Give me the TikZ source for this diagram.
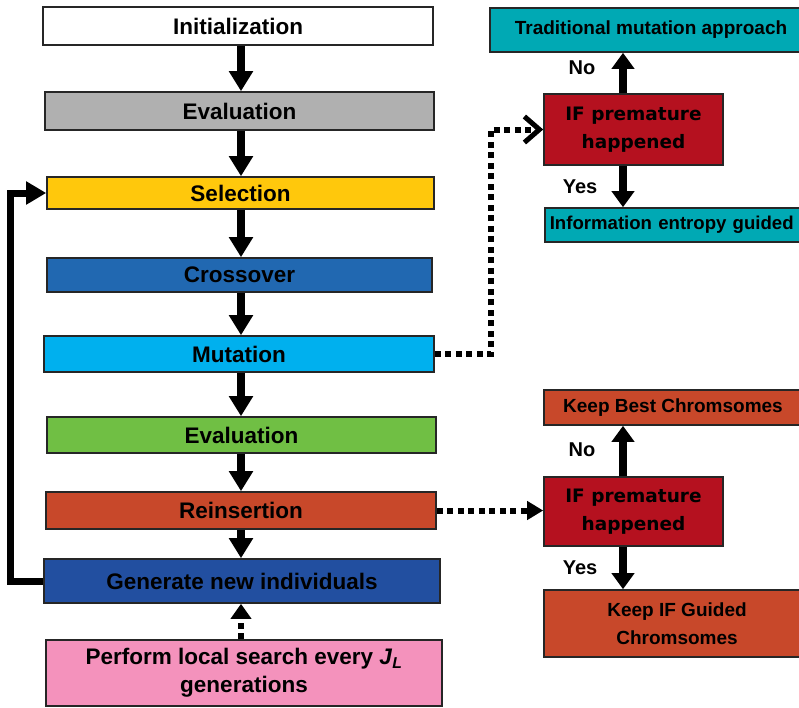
\documentclass[tikz,border=0pt]{standalone}
\usepackage{fontspec}
\setmainfont{Liberation Sans}
\newfontfamily\dvfont{DejaVu Sans}
\usetikzlibrary{arrows.meta}
\definecolor{cGray}{RGB}{176,176,176}
\definecolor{cSel}{RGB}{255,200,12}
\definecolor{cCross}{RGB}{33,104,177}
\definecolor{cMut}{RGB}{0,176,238}
\definecolor{cGreen}{RGB}{112,191,68}
\definecolor{cRed}{RGB}{200,72,42}
\definecolor{cGen}{RGB}{34,79,160}
\definecolor{cPink}{RGB}{244,146,188}
\definecolor{cTeal}{RGB}{0,169,180}
\definecolor{cIf}{RGB}{181,17,31}
\begin{document}
\begin{tikzpicture}[x=1pt,y=-1pt,
  box/.style={draw=black!85, line width=1.6pt, rectangle, inner sep=0pt, align=center, text=black,
    font=\fontsize{22.5}{28}\selectfont\bfseries},
  rbox/.style={box, font=\fontsize{19}{28}\selectfont\bfseries},
  ifbox/.style={box, fill=cIf, font=\dvfont\fontsize{18.5}{28}\selectfont\bfseries},
  arr/.style={line width=7.5pt, -{Triangle[width=23pt,length=20pt]}},
  rarr/.style={line width=7.5pt, -{Triangle[width=22pt,length=16pt]}},
  dotln/.style={line width=6pt, dash pattern=on 6pt off 4.5pt},
  lbl/.style={font=\fontsize{20}{24}\selectfont\bfseries}
]
\useasboundingbox (0,0) rectangle (799,707);
\clip (0,0) rectangle (799,707);

% left column
\node[box, fill=white, minimum width=390pt, minimum height=38pt] (init) at (238,26) {Initialization};
\node[box, fill=cGray, minimum width=389pt, minimum height=38pt] (ev1) at (239.5,111) {Evaluation};
\node[box, fill=cSel, minimum width=387pt, minimum height=32pt] (sel) at (240.5,193) {Selection};
\node[box, fill=cCross, minimum width=385pt, minimum height=34pt] (cross) at (239.5,275) {Crossover};
\node[box, fill=cMut, minimum width=390pt, minimum height=36pt] (mut) at (239,354) {Mutation};
\node[box, fill=cGreen, minimum width=389pt, minimum height=36pt] (ev2) at (241.5,435) {Evaluation};
\node[box, fill=cRed, minimum width=390pt, minimum height=37pt] (reins) at (241,510.5) {Reinsertion};
\node[box, fill=cGen, minimum width=396pt, minimum height=44pt] (gen) at (242,581) {Generate new individuals};
\node[box, fill=cPink, minimum width=396pt, minimum height=66pt] (pink) at (244,673)
  {Perform local search every \textit{J}\textsubscript{\textit{L}}\\generations};

% right column
\node[rbox, fill=cTeal, minimum width=322pt, minimum height=44pt] (trad) at (651,30) {Traditional mutation approach};
\node[ifbox, minimum width=179pt, minimum height=71pt] (ifT) at (633.5,129.5) {IF premature\\happened};
\node[rbox, fill=cTeal, anchor=west, minimum height=34pt, text width=290pt, align=left, inner xsep=5pt,
  font=\fontsize{18.6}{28}\selectfont\bfseries] (info) at (544,225) {Information entropy guided};
\node[rbox, fill=cRed, minimum width=258pt, minimum height=35pt] (best) at (673,407.5) {Keep Best Chromsomes};
\node[ifbox, minimum width=179pt, minimum height=69pt] (ifB) at (633.5,511.5) {IF premature\\happened};
\node[rbox, fill=cRed, minimum width=266pt, minimum height=67pt] (keepif) at (677,623.5) {Keep IF Guided\\Chromsomes};

% labels
\node[lbl] (no1) at (582,68) {No};
\node[lbl] (yes1) at (580,187) {Yes};
\node[lbl] (no2) at (582,450) {No};
\node[lbl] (yes2) at (580,568) {Yes};

% column arrows
\coordinate (lx) at (241,0);
\coordinate (rx) at (623,0);
\draw[arr] (init.south -| lx) -- (ev1.north -| lx);
\draw[arr] (ev1.south -| lx) -- (sel.north -| lx);
\draw[arr] (sel.south -| lx) -- (cross.north -| lx);
\draw[arr] (cross.south -| lx) -- (mut.north -| lx);
\draw[arr] (mut.south -| lx) -- (ev2.north -| lx);
\draw[arr] (ev2.south -| lx) -- (reins.north -| lx);
\draw[arr] (reins.south -| lx) -- (gen.north -| lx);
\draw[line width=7pt, -{Triangle[width=22pt,length=20pt]}] (gen.west) -- ++(-33,0) |- (sel.west);
\draw[dotln, -{Triangle[width=20pt,length=15pt]}] (pink.north -| lx) -- (gen.south -| lx);

% right arrows
\draw[rarr] (ifT.north -| rx) -- (trad.south -| rx);
\draw[rarr] (ifT.south -| rx) -- (info.north -| rx);
\draw[rarr] (ifB.north -| rx) -- (best.south -| rx);
\draw[rarr] (ifB.south -| rx) -- (keepif.north -| rx);

% dotted connectors
\draw[dotln, -{Straight Barb[length=15pt,width=26pt,line width=5pt]}] (mut.east) -- ++(56,0) |- (ifT.west);
\draw[dotln, -{Triangle[width=18pt,length=16pt]}] (reins.east) -- (reins.east -| ifB.west);
\end{tikzpicture}
\end{document}
